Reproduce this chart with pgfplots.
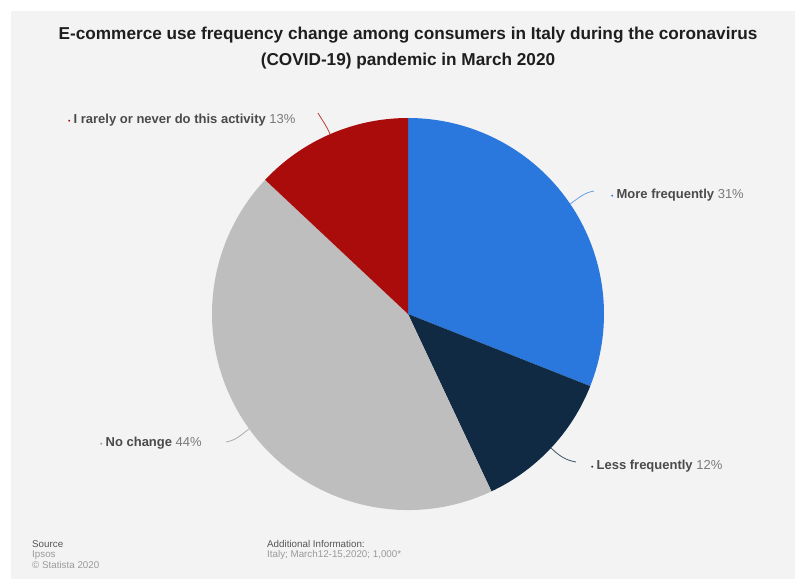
\documentclass[border=0pt]{standalone}
\usepackage{pgfplots}
\pgfplotsset{compat=1.18}
\usepackage{pgfplotstable}
\usepackage{fontspec}
\setmainfont{Liberation Sans}
\definecolor{bgc}{HTML}{F3F3F3}
\definecolor{pieblue}{HTML}{2A77DD}
\definecolor{pienavy}{HTML}{0F2A42}
\definecolor{piegray}{HTML}{BEBEBE}
\definecolor{piered}{HTML}{AA0B0B}
\definecolor{titlec}{HTML}{1E1E1E}
\definecolor{labc}{HTML}{4A4A4A}
\definecolor{pctc}{HTML}{7A7A7A}
\definecolor{footc}{HTML}{555555}
\definecolor{footl}{HTML}{9A9A9A}

\pgfplotstableread{
idx value col
0 31 pieblue
1 12 pienavy
2 44 piegray
3 13 piered
}\piedata

\begin{document}
\begin{tikzpicture}
\begin{axis}[scale only axis, width=795pt, height=579pt,
  xmin=0, xmax=795, ymin=0, ymax=579, y dir=reverse,
  hide axis, clip=false]
\pgfplotsextra{
  \fill[white] (axis cs:0,0) rectangle (axis cs:795,579);
  \fill[bgc] (axis cs:11,11) rectangle (axis cs:795,579);
  \gdef\cum{0}
  \foreach \i in {0,...,3}{
    \pgfplotstablegetelem{\i}{value}\of\piedata \let\sv\pgfplotsretval
    \pgfplotstablegetelem{\i}{col}\of\piedata \let\scol\pgfplotsretval
    \pgfmathsetmacro\sa{90-3.6*\cum}
    \pgfmathsetmacro\se{90-3.6*(\cum+\sv)}
    \fill[fill=\scol] (axis cs:408,314) -- ++(\sa:196pt) arc[start angle=\sa, end angle=\se, radius=196pt] -- cycle;
    \pgfmathsetmacro\newcum{\cum+\sv}
    \global\let\cum\newcum
  }
  % leader lines
  \draw[pieblue!70, line width=0.8pt] (axis cs:570,204) to[out=34, in=190] (axis cs:594,191);
  \draw[pienavy!80, line width=0.8pt] (axis cs:551,448) to[out=-43, in=170] (axis cs:576,462);
  \draw[piegray!90!black, line width=0.8pt] (axis cs:249,429) to[out=-144, in=10] (axis cs:226,442);
  \draw[piered!80, line width=0.8pt] (axis cs:330,134) to[out=113, in=-60] (axis cs:318,113);
}
\node[font=\bfseries\fontsize{17.2}{26}\selectfont, text=titlec, align=center, anchor=center]
  at (axis cs:408,48) {E-commerce use frequency change among consumers in Italy during the coronavirus\\(COVID-19) pandemic in March 2020};
\node[anchor=west, font=\fontsize{13}{14}\selectfont, inner sep=0pt] at (axis cs:68,120)
  {\textcolor{piered}{\scriptsize•}\hspace{3pt}\textcolor{labc}{\bfseries I rarely or never do this activity} \textcolor{pctc}{13\%}};
\node[anchor=west, font=\fontsize{13}{14}\selectfont, inner sep=0pt] at (axis cs:611,195)
  {\textcolor{pieblue}{\scriptsize•}\hspace{3pt}\textcolor{labc}{\bfseries More frequently} \textcolor{pctc}{31\%}};
\node[anchor=west, font=\fontsize{13}{14}\selectfont, inner sep=0pt] at (axis cs:591,466)
  {\textcolor{pienavy}{\scriptsize•}\hspace{3pt}\textcolor{labc}{\bfseries Less frequently} \textcolor{pctc}{12\%}};
\node[anchor=west, font=\fontsize{13}{14}\selectfont, inner sep=0pt] at (axis cs:100,443)
  {\textcolor{piegray!80!black}{\scriptsize•}\hspace{3pt}\textcolor{labc}{\bfseries No change} \textcolor{pctc}{44\%}};
\node[anchor=north west, font=\fontsize{9.8}{10.5}\selectfont, align=left, inner sep=0pt] at (axis cs:32,540)
  {\textcolor{footc}{Source}\\\textcolor{footl}{Ipsos}\\\textcolor{footl}{© Statista 2020}};
\node[anchor=north west, font=\fontsize{9.8}{10.5}\selectfont, align=left, inner sep=0pt] at (axis cs:267,540)
  {\textcolor{footc}{Additional Information:}\\\textcolor{footl}{Italy; March12-15,2020; 1,000*}};
\end{axis}
\end{tikzpicture}
\end{document}
